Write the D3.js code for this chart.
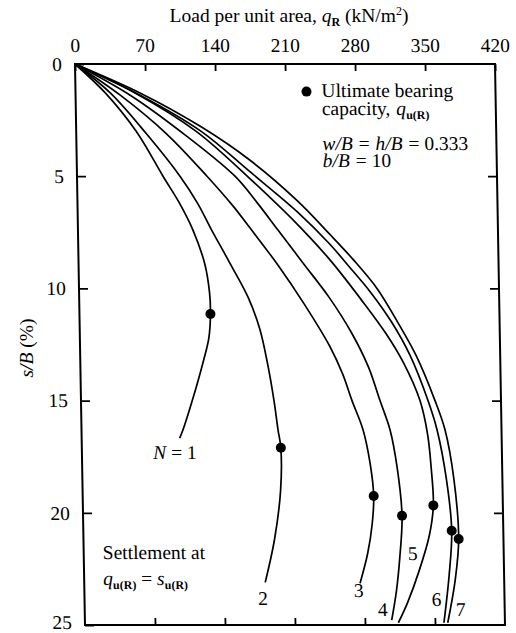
<!DOCTYPE html>
<html>
<head>
<meta charset="utf-8">
<script src="https://cdn.jsdelivr.net/npm/d3@7"></script>
<style>
  body { margin: 0; background: #fff; }
  svg { display: block; }
  text { font-family: "Liberation Serif", "Times New Roman", serif; fill: #000; }
</style>
</head>
<body>
<svg id="chart" width="516" height="633"></svg>
<script>
// Load–settlement curves for N = 1..7 reinforcement layers, [load q_R (kN/m²), s/B (%)]
const loadTicks = [0, 70, 140, 210, 280, 350, 420];
const settleTicks = [0, 5, 10, 15, 20, 25];
const curveLabels = ["N = 1", "2", "3", "4", "5", "6", "7"];

const curveN1 = [[0,0],[30,1.3],[60,3.0],[86,5],[102,6.2],[115,7.4],[126,8.87],[130.5,10.2],[131,11.14],[129,12.2],[122.7,13.3],[112,14.9],[101.5,16.3],[98,16.67]];
const curveN2 = [[0,0],[35,1.3],[70,3.1],[103,5],[120,6.2],[133.7,7.4],[151.3,8.87],[169,10.4],[180,11.8],[187,13.3],[193,15],[196.5,16.3],[199,17.1],[198,19],[191,21.2],[181,23.1]];
const curveN3 = [[0,0],[45,1.4],[90,3.1],[130,5],[155,6.3],[172,7.3],[200,9.0],[225,10.7],[250,12.6],[262,13.8],[271,15],[281.5,16.3],[288,17.8],[291,19.25],[289,20.5],[284,21.8],[275.8,23.14]];
const curveN4 = [[0,0],[55,1.4],[110,3.2],[158,5],[180,6.2],[200,7.4],[225,8.9],[250,10.4],[272,12],[288,13.5],[299,15],[308.5,16.3],[315,18],[319,20.13],[316,22],[312,23.5],[306.8,24.78]];
const curveN5 = [[0,0],[60,1.3],[120,3.0],[175,5.2],[225,7.4],[251.5,8.73],[282,10.5],[306,12],[323,13.3],[339,15],[346,16.5],[349,18],[350.5,19.67],[346,21],[335,22.6],[323,24],[313.4,24.9]];
const curveN6 = [[0,0],[65,1.4],[125,3.0],[173,4.8],[220,6.6],[251,8.0],[270,9.0],[292,10.2],[312,11.5],[330,13],[347,15],[355.5,16.3],[364,18.5],[368.4,20.8],[365,22.8],[359,24.9]];
const curveN7 = [[0,0],[65,1.3],[125,2.8],[173,4.28],[220,6.1],[252,7.6],[275,8.73],[298,10],[318,11.5],[336,13],[354,15],[363.5,16.3],[371.5,18.5],[375.2,21.17],[371,23],[362.8,24.9]];
const curves = [curveN1, curveN2, curveN3, curveN4, curveN5, curveN6, curveN7];

// Ultimate bearing capacity q_u(R) and its settlement for each curve
const ultimateLoad = [131, 199, 291, 319, 350.5, 368.4, 375.2];
const ultimateSettle = [11.14, 17.1, 19.25, 20.13, 19.67, 20.8, 21.17];

// Where each curve's label sits, in data units
const labelLoad = [93, 178.4, 274.5, 298, 329, 352, 376];
const labelSettle = [17.6, 24.1, 23.75, 24.6, 22.1, 24.15, 24.6];

const svg = d3.select("#chart");
const plotLeft = 75, plotTop = 64, W = 420, H = 561;
const FS = 19.5;

const x = d3.scaleLinear().domain([0, 420]).range([0, W]);
const y = d3.scaleLinear().domain([0, 25]).range([0, H]);

// The whole frame leans slightly to the right going down
const g = svg.append("g").attr("transform", `translate(${plotLeft},${plotTop}) skewX(1.02)`);

// Frame
g.append("rect").attr("x", 0).attr("y", 0).attr("width", W).attr("height", H)
  .attr("fill", "none").attr("stroke", "#000").attr("stroke-width", 2);

// Top axis with labels, ticks pointing inward
const topAxis = d3.axisTop(x).tickValues(loadTicks).tickSizeInner(-7).tickSizeOuter(0).tickPadding(12);
const ta = g.append("g").call(topAxis);
ta.select(".domain").remove();
ta.selectAll("line").attr("stroke", "#000").attr("stroke-width", 1.8);
ta.selectAll("text").attr("font-size", FS).attr("font-family", "Liberation Serif").attr("dy", "0em");

// Bottom axis: ticks only
const botAxis = d3.axisBottom(x).tickValues(loadTicks.slice(1, -1)).tickSizeInner(-7).tickSizeOuter(0).tickFormat("");
const ba = g.append("g").attr("transform", `translate(0,${H})`).call(botAxis);
ba.select(".domain").remove();
ba.selectAll("line").attr("stroke", "#000").attr("stroke-width", 1.8);

// Left axis with labels
const leftAxis = d3.axisLeft(y).tickValues(settleTicks).tickSizeInner(-9).tickSizeOuter(0).tickPadding(13);
const la = g.append("g").call(leftAxis);
la.select(".domain").remove();
la.selectAll("line").attr("stroke", "#000").attr("stroke-width", 1.8);
la.selectAll("text").attr("font-size", FS).attr("font-family", "Liberation Serif")
  .attr("dy", d => d === 25 ? "0.2em" : "0.32em");

// Right axis: ticks only
const rightAxis = d3.axisRight(y).tickValues(settleTicks.slice(1, -1)).tickSizeInner(-9).tickSizeOuter(0).tickFormat("");
const ra = g.append("g").attr("transform", `translate(${W},0)`).call(rightAxis);
ra.select(".domain").remove();
ra.selectAll("line").attr("stroke", "#000").attr("stroke-width", 1.8);

// Curves
const line = d3.line().x(d => x(d[0])).y(d => y(d[1])).curve(d3.curveCatmullRom.alpha(0.5));
g.append("g").selectAll("path").data(curves).join("path")
  .attr("d", line).attr("fill", "none").attr("stroke", "#000").attr("stroke-width", 1.7);

// Ultimate points
g.append("g").selectAll("circle").data(ultimateLoad).join("circle")
  .attr("cx", d => x(d)).attr("cy", (d, i) => y(ultimateSettle[i])).attr("r", 5).attr("fill", "#000");

// Curve labels
g.append("g").selectAll("text").data(curveLabels).join("text")
  .attr("x", (d, i) => x(labelLoad[i])).attr("y", (d, i) => y(labelSettle[i]))
  .attr("text-anchor", "middle").attr("font-size", FS)
  .each(function (d) {
    const t = d3.select(this);
    if (d.startsWith("N")) {
      t.append("tspan").attr("font-style", "italic").text("N");
      t.append("tspan").text(" = 1");
    } else {
      t.text(d);
    }
  });

// Legend
g.append("circle").attr("cx", x(231)).attr("cy", y(1.23)).attr("r", 5).attr("fill", "#000");
g.append("text").attr("x", x(246)).attr("y", y(1.46)).attr("font-size", FS).text("Ultimate bearing");
const cap = g.append("text").attr("x", x(246)).attr("y", y(2.27)).attr("font-size", FS);
cap.append("tspan").text("capacity,\u00a0");
cap.append("tspan").attr("font-style", "italic").attr("dx", 1).text("q");
cap.append("tspan").attr("font-size", 12).attr("font-weight", "bold").attr("dy", 4).text("u(R)");

const r1 = g.append("text").attr("x", x(246)).attr("y", y(3.83)).attr("font-size", FS);
r1.append("tspan").attr("font-style", "italic").text("w/B");
r1.append("tspan").attr("dx", 1).text("\u00a0=\u00a0");
r1.append("tspan").attr("font-style", "italic").attr("dx", 1).text("h/B");
r1.append("tspan").attr("dx", 1).text("\u00a0=\u00a00.333");
const r2 = g.append("text").attr("x", x(246)).attr("y", y(4.59)).attr("font-size", FS);
r2.append("tspan").attr("font-style", "italic").text("b/B");
r2.append("tspan").attr("dx", 1).text("\u00a0=\u00a010");

// Settlement note
g.append("text").attr("x", x(19)).attr("y", y(22.06)).attr("font-size", FS).text("Settlement at");
const sn = g.append("text").attr("x", x(19)).attr("y", y(23.2)).attr("font-size", FS);
sn.append("tspan").attr("font-style", "italic").text("q");
sn.append("tspan").attr("font-size", 12).attr("font-weight", "bold").attr("dy", 4).text("u(R)");
sn.append("tspan").attr("dy", -4).text(" = ");
sn.append("tspan").attr("font-style", "italic").text("s");
sn.append("tspan").attr("font-size", 12).attr("font-weight", "bold").attr("dy", 4).text("u(R)");

// Axis titles
const tt = svg.append("text").attr("x", 289).attr("y", 22).attr("text-anchor", "middle").attr("font-size", FS);
tt.append("tspan").text("Load per unit area, ");
tt.append("tspan").attr("font-style", "italic").text("q");
tt.append("tspan").attr("font-size", 12).attr("font-weight", "bold").attr("dy", 4).text("R");
tt.append("tspan").attr("dy", -4).text(" (kN/m");
tt.append("tspan").attr("font-size", 12).attr("dy", -7).text("2");
tt.append("tspan").attr("dy", 7).text(")");

const yt = svg.append("text").attr("transform", "translate(33,348) rotate(-90)")
  .attr("text-anchor", "middle").attr("font-size", FS);
yt.append("tspan").attr("font-style", "italic").text("s/B");
yt.append("tspan").text(" (%)");
</script>
</body>
</html>
